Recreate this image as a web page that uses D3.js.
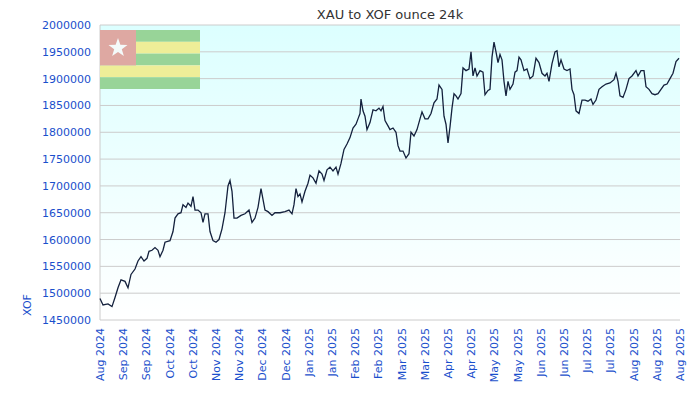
<!DOCTYPE html>
<html><head><meta charset="utf-8">
<script src="https://cdn.jsdelivr.net/npm/d3@7"></script>
<style>body{margin:0;background:#fff}text{font-family:"DejaVu Sans",sans-serif}</style>
</head><body><svg id="c" width="700" height="400"></svg>
<script>
// sample positions (offset along the year, in 1/580ths of it) and prices
var offsets = [0,3,8,12,15,18,21,25,28,31,35,38,41,44,47,49,52,55,58,60,63,65,70,73,75,78,81,83,86,88,91,93,95,98,101,103,105,108,110,113,116,119,122,125,128,130,132,134,137,141,145,149,152,155,158,161,163,165,168,172,175,180,185,189,192,194,196,198,200,202,205,208,210,213,216,219,222,224,227,230,233,236,238,241,244,247,250,253,256,258,260,261,263,265,267,270,273,276,279,281,283,285,288,290,293,296,298,300,303,306,309,311,314,317,320,322,325,328,331,334,337,339,342,344,346,348,350,352,354,356,358,361,363,366,369,371,373,375,377,380,383,385,388,390,392,394,396,398,400,402,404,406,408,410,413,415,417,419,421,424,427,430,433,436,439,442,445,447,449,452,455,457,459,461,464,467,470,472,474,476,479,482,485,488,491,493,496,499,502,506,510,514,516,518,520,523,526,529,532,536,538,541,544,546,549,552,555,558,561,564,567,570,573,576,579];
var prices = [1490000,1478000,1480000,1475000,1492000,1510000,1525000,1522000,1510000,1535000,1545000,1560000,1568000,1560000,1565000,1578000,1580000,1585000,1580000,1568000,1580000,1595000,1598000,1615000,1640000,1648000,1650000,1665000,1660000,1668000,1662000,1680000,1655000,1655000,1650000,1632000,1648000,1648000,1615000,1598000,1595000,1600000,1620000,1650000,1700000,1710000,1690000,1640000,1640000,1645000,1648000,1655000,1632000,1640000,1660000,1695000,1675000,1655000,1652000,1645000,1650000,1650000,1652000,1655000,1648000,1665000,1695000,1680000,1685000,1670000,1690000,1705000,1720000,1715000,1705000,1728000,1722000,1710000,1730000,1735000,1728000,1735000,1722000,1742000,1768000,1778000,1790000,1808000,1815000,1825000,1835000,1862000,1840000,1830000,1805000,1818000,1842000,1840000,1845000,1840000,1848000,1822000,1812000,1805000,1808000,1800000,1775000,1765000,1765000,1752000,1760000,1800000,1793000,1805000,1825000,1838000,1825000,1825000,1835000,1855000,1862000,1888000,1880000,1830000,1815000,1780000,1810000,1845000,1872000,1868000,1862000,1872000,1920000,1915000,1918000,1950000,1905000,1920000,1905000,1915000,1912000,1870000,1878000,1880000,1940000,1968000,1950000,1930000,1945000,1935000,1895000,1868000,1895000,1880000,1890000,1912000,1915000,1940000,1935000,1915000,1918000,1900000,1905000,1938000,1930000,1910000,1905000,1910000,1895000,1928000,1950000,1952000,1922000,1935000,1918000,1915000,1918000,1880000,1870000,1840000,1835000,1860000,1860000,1858000,1862000,1852000,1860000,1880000,1885000,1890000,1892000,1898000,1910000,1895000,1868000,1865000,1880000,1900000,1905000,1915000,1905000,1915000,1915000,1885000,1880000,1872000,1870000,1872000,1880000,1888000,1890000,1900000,1910000,1932000,1938000];
var tickLabels = ['Aug 2024','Sep 2024','Sep 2024','Oct 2024','Oct 2024','Nov 2024','Nov 2024','Dec 2024','Dec 2024','Jan 2025','Jan 2025','Feb 2025','Feb 2025','Mar 2025','Mar 2025','Apr 2025','Apr 2025','May 2025','May 2025','Jun 2025','Jun 2025','Jul 2025','Jul 2025','Aug 2025','Aug 2025','Aug 2025'];
var yTicks = [1450000,1500000,1550000,1600000,1650000,1700000,1750000,1800000,1850000,1900000,1950000,2000000];

var L = 100, R = 680, T = 25, B = 320;
var svg = d3.select('#c');
var grad = svg.append('defs').append('linearGradient').attr('id', 'bg')
    .attr('x1', 0).attr('y1', 0).attr('x2', 0).attr('y2', 1);
grad.append('stop').attr('offset', 0).attr('stop-color', '#dcffff');
grad.append('stop').attr('offset', 1).attr('stop-color', '#ffffff');

var x = d3.scaleLinear().domain([0, 580]).range([L, R]);
var xt = d3.scaleLinear().domain([0, tickLabels.length - 1]).range([L, R]);
var y = d3.scaleLinear().domain([1450000, 2000000]).range([B, T]);

svg.append('rect').attr('x', L).attr('y', T).attr('width', R - L).attr('height', B - T)
    .attr('fill', 'url(#bg)');

svg.append('g').selectAll('line').data(yTicks).enter().append('line')
    .attr('x1', L).attr('x2', R).attr('y1', y).attr('y2', y)
    .attr('stroke', '#cccccc');
svg.append('line').attr('x1', L).attr('x2', L).attr('y1', T).attr('y2', B).attr('stroke', '#cccccc');

// flag of Togo
var fg = svg.append('g');
var stripes = ['#98d498', '#eeee98', '#98d498', '#eeee98', '#98d498'];
fg.selectAll('rect').data(stripes).enter().append('rect')
    .attr('x', L).attr('y', function (d, i) { return 30 + i * 11.8; })
    .attr('width', 100).attr('height', 11.8).attr('fill', function (d) { return d; });
fg.append('rect').attr('x', L).attr('y', 30).attr('width', 36).attr('height', 35.4).attr('fill', '#dea8a2');
var star = d3.range(10).map(function (i) {
    var r = i % 2 ? 4 : 10, a = -Math.PI / 2 + i * Math.PI / 5;
    return [118 + r * Math.cos(a), 48 + r * Math.sin(a)];
});
svg.append('polygon').attr('points', star.join(' ')).attr('fill', '#f4fafa');

var line = d3.line().x(function (d, i) { return x(offsets[i]); }).y(function (d) { return y(d); });
svg.append('path').datum(prices).attr('d', line).attr('fill', 'none')
    .attr('stroke', '#14213d').attr('stroke-width', 1.3);

svg.append('g').selectAll('text').data(yTicks).enter().append('text')
    .attr('x', 91).attr('y', function (d) { return y(d) + 4; }).attr('text-anchor', 'end')
    .attr('font-size', 11).attr('fill', '#1a4fcc').text(function (d) { return d; });

svg.append('g').selectAll('text').data(tickLabels).enter().append('text')
    .attr('transform', function (d, i) { return 'translate(' + (xt(i) + 4) + ',328) rotate(-90)'; })
    .attr('text-anchor', 'end').attr('font-size', 11).attr('fill', '#1a4fcc')
    .text(function (d) { return d; });

svg.append('text').attr('x', 390).attr('y', 19).attr('text-anchor', 'middle')
    .attr('font-size', 13).attr('fill', '#333').text('XAU to XOF ounce 24k');
svg.append('text').attr('transform', 'translate(31,305) rotate(-90)').attr('text-anchor', 'middle')
    .attr('font-size', 11).attr('fill', '#1a4fcc').text('XOF');
</script></body></html>
